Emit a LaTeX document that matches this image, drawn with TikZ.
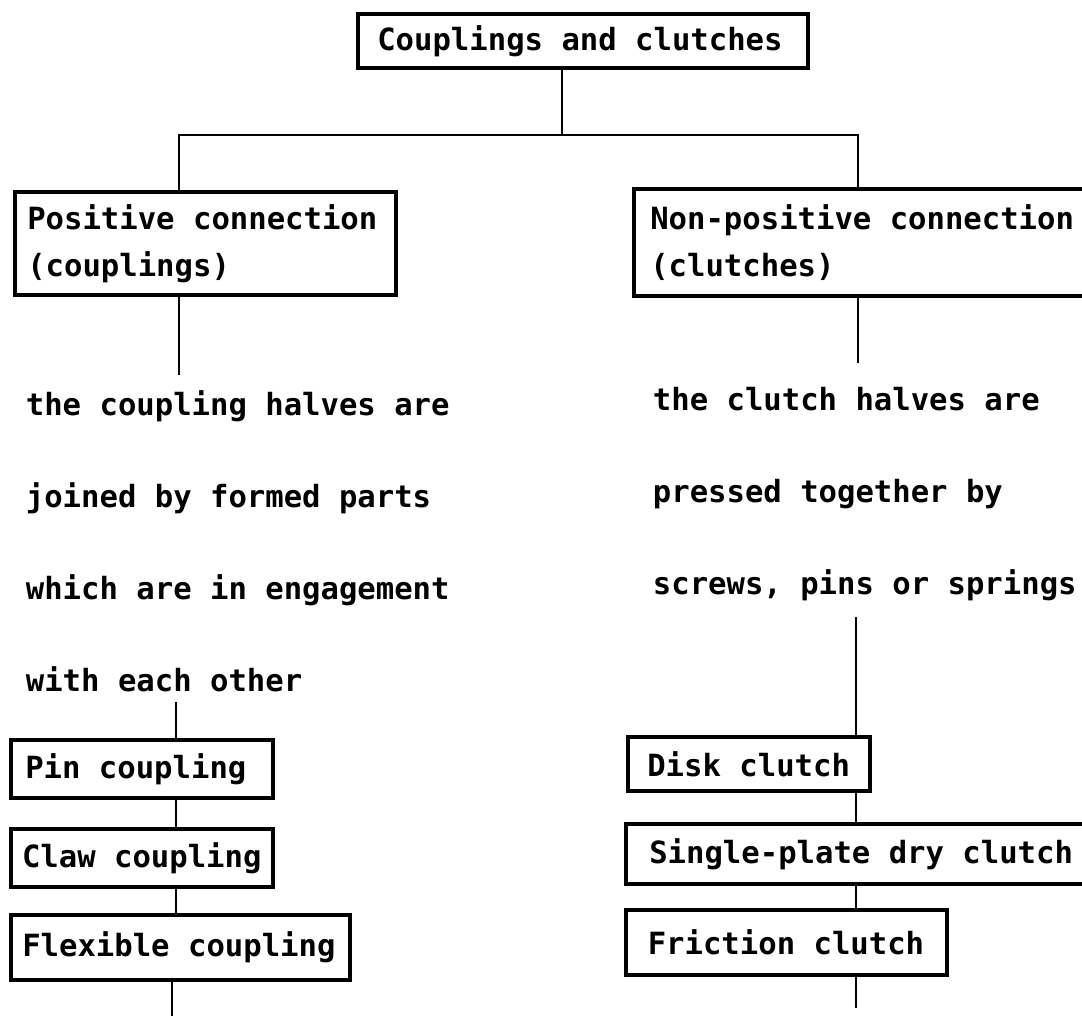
\documentclass[tikz,border=0pt]{standalone}
\usepackage{fontspec}
\newfontfamily\typefont{DejaVu Sans Mono}
\usepackage{tikz}

\tikzset{
	chartbox/.style={draw, line width=1.8pt, rectangle, anchor=north west,
		align=flush left, inner ysep=0pt},
	chartnote/.style={anchor=north west, align=left, inner sep=0pt,
		font=\typefont\bfseries\fontsize{15.3pt}{46pt}\selectfont},
	conn/.style={line width=1.4pt}
}

\begin{document}
\begin{tikzpicture}[x=0.5pt,y=-0.5pt,
		font=\typefont\bfseries\fontsize{15.3pt}{23.5pt}\selectfont]
		\useasboundingbox (0,0) rectangle (1082,1016);
		\clip (0,0) rectangle (1082,1016);
		%
		\node[chartbox, inner xsep=9.75pt, text width=205.5pt, minimum height=27pt]
			(top) at (356,12) {Couplings and clutches};
		\node[chartbox, inner xsep=6.25pt, text width=178pt, minimum height=51.5pt]
			(pos) at (13,190) {Positive connection\\(couplings)};
		\node[chartbox, inner xsep=8.25pt, text width=217.5pt, minimum height=53.5pt]
			(nonpos) at (632,187) {Non-positive connection\\(clutches)};
		% descriptions
		\node[chartnote] (cpl) at (25.5,390)
			{the coupling halves are\\joined by formed parts\\which are in engagement\\with each other};
		\node[chartnote] (clt) at (652.5,387)
			{the clutch halves are\\pressed together by\\screws, pins or springs};
		% coupling types
		\node[chartbox, inner xsep=7.25pt, text width=116.5pt, minimum height=29pt]
			(pin) at (9,738) {Pin coupling};
		\node[chartbox, inner xsep=5.6pt, text width=119.8pt, minimum height=29pt]
			(claw) at (9,827) {Claw coupling};
		\node[chartbox, inner xsep=5.75pt, text width=158pt, minimum height=32.5pt]
			(flex) at (9,913) {Flexible coupling};
		% clutch types
		\node[chartbox, inner xsep=9.75pt, text width=101.5pt, minimum height=27pt]
			(disk) at (626,735) {Disk clutch};
		\node[chartbox, inner xsep=11.75pt, text width=214.5pt, minimum height=30pt]
			(single) at (624,822) {Single-plate dry clutch};
		\node[chartbox, inner xsep=11pt, text width=138.5pt, minimum height=32.5pt]
			(fric) at (624,908) {Friction clutch};
		%
		\coordinate (split) at (562,135);
		\coordinate (lcol) at (179,135);
		\coordinate (rcol) at (858,135);
		\coordinate (lchain) at (176,0);
		\coordinate (rchain) at (856,0);
		\coordinate (lend) at (172,1030);
		\coordinate (rend) at (856,1008);
		%
		\draw[conn] (lcol |- pos.north) -- (lcol) -- (rcol) -- (rcol |- nonpos.north);
		\path[conn]
		% trunk
		(top.south -| split) edge (split)
		% down to the descriptions
		(lcol |- pos.south) edge[shorten >=7.5pt] (lcol |- cpl.north)
		(rcol |- nonpos.south) edge[shorten >=12pt] (rcol |- clt.north)
		% left column
		(lchain |- cpl.south) edge[shorten <=5pt] (lchain |- pin.north)
		(lchain |- pin.south) edge (lchain |- claw.north)
		(lchain |- claw.south) edge (lchain |- flex.north)
		(lend |- flex.south) edge (lend)
		% right column
		(rchain |- clt.south) edge[shorten <=8pt] (rchain |- disk.north)
		(rchain |- disk.south) edge (rchain |- single.north)
		(rchain |- single.south) edge (rchain |- fric.north)
		(rend |- fric.south) edge (rend);
	\end{tikzpicture}
\end{document}
